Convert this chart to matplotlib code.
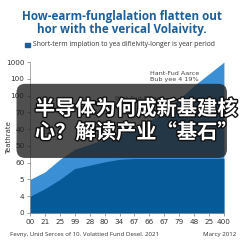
import matplotlib
matplotlib.use("Agg")
import matplotlib.pyplot as plt
import matplotlib.patheffects as pe
from matplotlib.patches import FancyBboxPatch

# data
x_labels = ["00", "21", "25", "99", "28", "80", "34", "67", "66", "67", "79", "48", "25", "400"]
y_labels = ["0", "4", "5", "60", "50", "40", "70", "100", "100", "1000"]
upper_series = [2.0, 2.45, 3.2, 3.8, 4.1, 4.4, 4.7, 5.0, 5.5, 6.0, 6.8, 7.6, 8.3, 9.0]
lower_series = [1.0, 1.45, 2.0, 2.65, 2.85, 3.05, 3.2, 3.25, 3.25, 3.25, 3.25, 3.25, 3.25, 3.25]

title = "How-earm-funglalation flatten out\nhor with the verical Volaivity."
legend_text = "Short-term implation to yea difielvity-longer is year period"
source_text = "Fevny, Unid Serces of 10. Volattied Fund Desel. 2021"
date_text = "Marcy 2012"
overlay_text = "半导体为何成新基建核\n心？解读产业“基石”"

fig = plt.figure(figsize=(2.43, 2.43), dpi=100)
fig.patch.set_facecolor("white")

ax = fig.add_axes([0.1235, 0.1235, 0.798, 0.621])
xs = list(range(len(x_labels)))
ax.fill_between(xs, 0, upper_series, color="#3b8fd4", lw=0)
ax.fill_between(xs, 0, lower_series, color="#075a98", lw=0)
ax.set_xlim(0, len(x_labels) - 1)
ax.set_ylim(0, len(y_labels) - 1)
ax.set_xticks(xs)
ax.set_xticklabels(x_labels, fontsize=5.2, color="#333333")
ax.set_yticks(range(len(y_labels)))
ax.set_yticklabels(y_labels, fontsize=5.2, color="#333333")
ax.tick_params(length=2, width=0.5, pad=2, colors="#777777", labelcolor="#333333")
for s in ["top", "right"]:
    ax.spines[s].set_visible(False)
for s in ["left", "bottom"]:
    ax.spines[s].set_linewidth(0.5)
    ax.spines[s].set_color("#888888")
ax.set_ylabel("Teathrate", fontsize=5, color="#333333")
ax.yaxis.set_label_coords(-0.095, 0.5)

ax.text(9.7, 8.15, "Hant-Fud Aarce\nBub yee 4 19%", fontsize=4.6, color="#444444",
        ha="center", va="center", linespacing=1.25)
ax.text(7.2, 6.85, "Bont-Fud-faces", fontsize=4.4, color="#555555", ha="center", va="center")
ax.text(1.5, 4.6, "Sic Ad\nBud ta 1", fontsize=3.8, color="#777777", ha="center", va="center")

fig.text(0.5, 0.905, title, fontsize=8.4, fontweight="bold", color="#1c5f9b",
         ha="center", va="center", family="Open Sans", linespacing=1.05)
fig.patches.append(plt.Rectangle((0.103, 0.805), 0.02, 0.02, transform=fig.transFigure,
                                 color="#1c5f9b"))
fig.text(0.135, 0.815, legend_text, fontsize=4.9, color="#333333", va="center",
         family="Open Sans")
fig.text(0.04, 0.033, source_text, fontsize=4.4, color="#333333", va="center",
         family="Open Sans")
fig.text(0.972, 0.033, date_text, fontsize=4.4, color="#333333", va="center",
         ha="right", family="Open Sans")

box = FancyBboxPatch((0.068, 0.35), 0.866, 0.305, boxstyle="round,pad=0,rounding_size=0.035",
                     transform=fig.transFigure, facecolor="#1e1e1e", alpha=0.78,
                     edgecolor="none")
fig.patches.append(box)
fig.text(0.56, 0.505, overlay_text, fontsize=14.6, fontweight="bold", color="white",
         ha="center", va="center", family=["Noto Sans CJK SC", "DejaVu Sans"],
         linespacing=1.15,
         path_effects=[pe.withStroke(linewidth=2, foreground="#111111")])

fig.savefig("out.png", dpi=100)
